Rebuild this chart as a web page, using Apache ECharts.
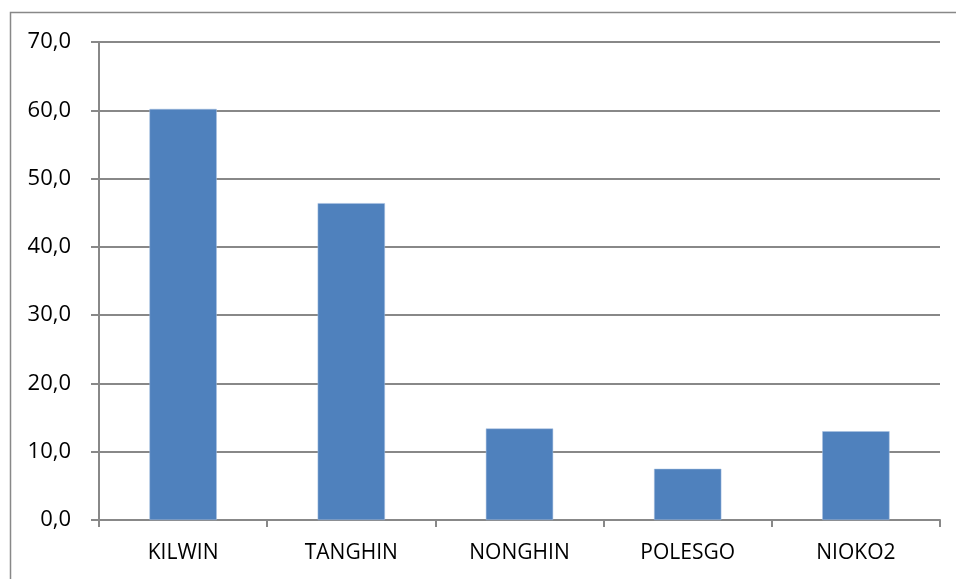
<!DOCTYPE html>
<html>
<head>
<meta charset="utf-8">
<script src="https://cdn.jsdelivr.net/npm/echarts@6/dist/echarts.min.js"></script>
<style>
  html, body { margin: 0; padding: 0; background: #fff; }
  #chart { width: 956px; height: 579px; }
</style>
</head>
<body>
<div id="chart"></div>
<script>
// villages et valeurs
const villages = ['KILWIN', 'TANGHIN', 'NONGHIN', 'POLESGO', 'NIOKO2'];
const valeurs = [60.2, 46.4, 13.4, 7.5, 13.0];

const myChart = echarts.init(document.getElementById('chart'));
const gris = '#888888';
const police = '"Open Sans", Lato, sans-serif';

const option = {
  animation: false,
  graphic: [{
    type: 'rect',
    shape: { x: 10.5, y: 12.5, width: 1000, height: 1000 },
    style: { fill: 'none', stroke: gris, lineWidth: 1.5 },
    silent: true
  }],
  grid: { left: 99, right: 16, top: 42, bottom: 59 },
  xAxis: {
    type: 'category',
    data: villages,
    axisLine: { lineStyle: { color: gris, width: 2 } },
    axisTick: { show: true, length: 7, lineStyle: { color: gris, width: 2 } },
    axisLabel: { color: '#000', fontFamily: police, fontSize: 21, margin: 23 }
  },
  yAxis: {
    type: 'value',
    min: 0,
    max: 70,
    interval: 10,
    axisLine: { show: true, lineStyle: { color: gris, width: 2 } },
    axisTick: { show: true, length: 8, lineStyle: { color: gris, width: 2 } },
    splitLine: { lineStyle: { color: gris, width: 2 } },
    axisLabel: {
      color: '#000',
      fontFamily: police,
      fontSize: 22,
      margin: 28,
      formatter: v => v.toFixed(1).replace('.', ',')
    }
  },
  series: [{
    type: 'bar',
    data: valeurs,
    barWidth: '40%',
    itemStyle: { color: '#4f81bd', borderColor: '#a9c1e0', borderWidth: 0.5 }
  }]
};
myChart.setOption(option);
</script>
</body>
</html>
